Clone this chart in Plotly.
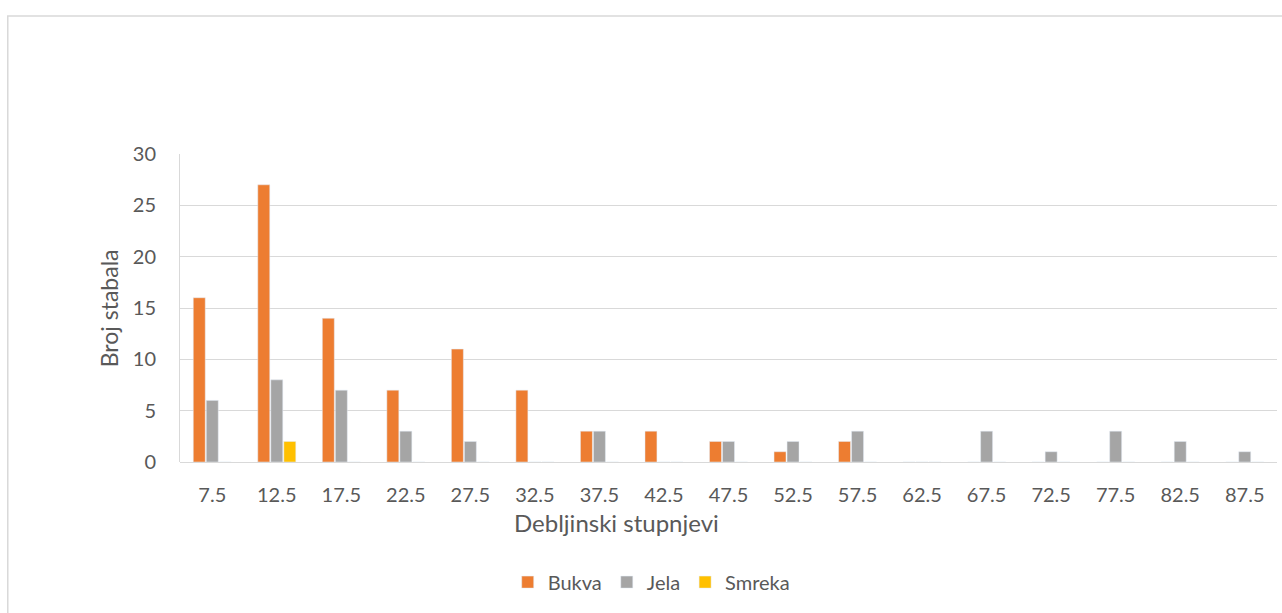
import plotly.graph_objects as go

categories = ["7.5", "12.5", "17.5", "22.5", "27.5", "32.5", "37.5", "42.5", "47.5",
              "52.5", "57.5", "62.5", "67.5", "72.5", "77.5", "82.5", "87.5"]
bukva = [16, 27, 14, 7, 11, 7, 3, 3, 2, 1, 2, 0, 0, 0, 0, 0, 0]
jela = [6, 8, 7, 3, 2, 0, 3, 0, 2, 2, 3, 0, 3, 1, 3, 2, 1]
smreka = [0, 2, 0, 0, 0, 0, 0, 0, 0, 0, 0, 0, 0, 0, 0, 0, 0]
y_ticks = [0, 5, 10, 15, 20, 25, 30]

FONT = "Lato"
TXT = "#595959"
GRID = "#d9d9d9"

fig = go.Figure()
fig.add_trace(go.Bar(name="Bukva", x=categories, y=bukva, marker_color="#ED7D31"))
fig.add_trace(go.Bar(name="Jela", x=categories, y=jela, marker_color="#A5A5A5"))
fig.add_trace(go.Bar(name="Smreka", x=categories, y=smreka, marker_color="#FFC000"))

fig.update_layout(
    width=1282, height=613,
    margin=dict(l=180, r=5, t=154, b=151),
    paper_bgcolor="white", plot_bgcolor="white",
    barmode="group", bargap=0.395, bargroupgap=0.08,
    font=dict(family=FONT, size=20, color=TXT),
    showlegend=True,
    legend=dict(orientation="h", x=0.430, xanchor="center", y=-0.39, yanchor="middle",
                font=dict(family=FONT, size=20, color=TXT), itemwidth=30,
                traceorder="normal"),
    xaxis=dict(showgrid=False, showline=False, ticks="", ticklabelstandoff=19,
               tickfont=dict(family=FONT, size=20, color=TXT)),
    yaxis=dict(range=[0, 30], tickvals=y_ticks, showgrid=True, gridcolor=GRID, gridwidth=1,
               zeroline=True, zerolinecolor=GRID, zerolinewidth=1,
               showline=True, linecolor=GRID, linewidth=1,
               ticks="", ticklabelstandoff=19,
               tickfont=dict(family=FONT, size=20, color=TXT)),
    annotations=[
        dict(text="Debljinski stupnjevi", xref="paper", yref="paper", x=0.398, y=-0.198,
             xanchor="center", yanchor="middle", showarrow=False,
             font=dict(family=FONT, size=24, color=TXT)),
        dict(text="Broj stabala", xref="paper", yref="paper", x=-0.0645, y=0.5,
             xanchor="center", yanchor="middle", showarrow=False, textangle=-90,
             font=dict(family=FONT, size=23, color=TXT)),
    ],
    shapes=[
        dict(type="rect", xref="paper", yref="paper", x0=-0.157, x1=1.05, y0=-0.6, y1=1.448,
             line=dict(color=GRID, width=1.5), fillcolor="rgba(0,0,0,0)", layer="below"),
    ],
)

fig.write_html("out.html", config={"displayModeBar": False},
               post_script="document.body.style.margin='0';")
